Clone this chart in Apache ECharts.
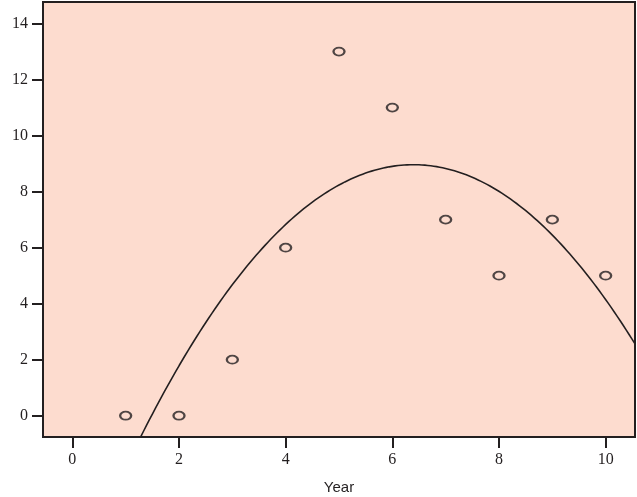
<!DOCTYPE html>
<html>
<head>
<meta charset="utf-8">
<script src="https://cdn.jsdelivr.net/npm/echarts@6/dist/echarts.min.js"></script>
<style>
  html, body { margin: 0; padding: 0; background: #ffffff; }
  #chart { width: 637px; height: 497px; }
</style>
</head>
<body>
<div id="chart"></div>
<script>
// data
const years = [1, 2, 3, 4, 5, 6, 7, 8, 9, 10];
const values = [0, 0, 2, 6, 13, 11, 7, 5, 7, 5];
const xTicks = [0, 2, 4, 6, 8, 10];
const yTicks = [0, 2, 4, 6, 8, 10, 12, 14];

// least squares quadratic fit through the points
function quadFit(xs, ys) {
  let s = [0, 0, 0, 0, 0], t = [0, 0, 0];
  for (let i = 0; i < xs.length; i++) {
    let p = 1;
    for (let k = 0; k < 5; k++) { s[k] += p; if (k < 3) t[k] += p * ys[i]; p *= xs[i]; }
  }
  const A = [[s[0], s[1], s[2], t[0]], [s[1], s[2], s[3], t[1]], [s[2], s[3], s[4], t[2]]];
  for (let i = 0; i < 3; i++) {
    for (let j = i + 1; j < 3; j++) {
      const f = A[j][i] / A[i][i];
      for (let k = i; k < 4; k++) A[j][k] -= f * A[i][k];
    }
  }
  const c = [0, 0, 0];
  for (let i = 2; i >= 0; i--) {
    let v = A[i][3];
    for (let k = i + 1; k < 3; k++) v -= A[i][k] * c[k];
    c[i] = v / A[i][i];
  }
  return c;
}
const coef = quadFit(years, values);
const xMin = -0.55, xMax = 10.55;
const fitLine = [];
for (let i = 0; i <= 200; i++) {
  const x = xMin + (xMax - xMin) * i / 200;
  fitLine.push([x, coef[0] + coef[1] * x + coef[2] * x * x]);
}

const ink = '#231f20';
const chart = echarts.init(document.getElementById('chart'));
chart.setOption({
  animation: false,
  grid: {
    left: 43, top: 2, right: 2, bottom: 60,
    outerBoundsMode: 'none',
    show: true, backgroundColor: '#fddccf', borderColor: ink, borderWidth: 2
  },
  xAxis: {
    type: 'value', min: xMin, max: xMax,
    name: 'Year', nameLocation: 'middle', nameGap: 43,
    nameTextStyle: { fontFamily: 'Liberation Sans', fontSize: 15, color: ink },
    axisLine: { show: true, onZero: false, lineStyle: { color: ink, width: 2 } },
    splitLine: { show: false },
    axisTick: { show: true, customValues: xTicks, length: 11, lineStyle: { color: ink, width: 2 } },
    axisLabel: { customValues: xTicks, margin: 15, fontFamily: 'Liberation Serif', fontSize: 16, color: ink }
  },
  yAxis: {
    type: 'value', min: -0.76, max: 14.77,
    axisLine: { show: true, onZero: false, lineStyle: { color: ink, width: 2 } },
    splitLine: { show: false },
    axisTick: { show: true, customValues: yTicks, length: 11, lineStyle: { color: ink, width: 2 } },
    axisLabel: { customValues: yTicks, margin: 15, fontFamily: 'Liberation Serif', fontSize: 16, color: ink }
  },
  series: [
    {
      type: 'line', data: fitLine, showSymbol: false, smooth: false,
      lineStyle: { color: ink, width: 1.6 }, clip: true, silent: true
    },
    {
      type: 'scatter', data: years.map((x, i) => [x, values[i]]),
      symbol: 'circle', symbolSize: [11, 8],
      itemStyle: { color: 'rgba(0,0,0,0)', borderColor: ink, borderWidth: 2 }
    }
  ]
});
</script>
</body>
</html>
